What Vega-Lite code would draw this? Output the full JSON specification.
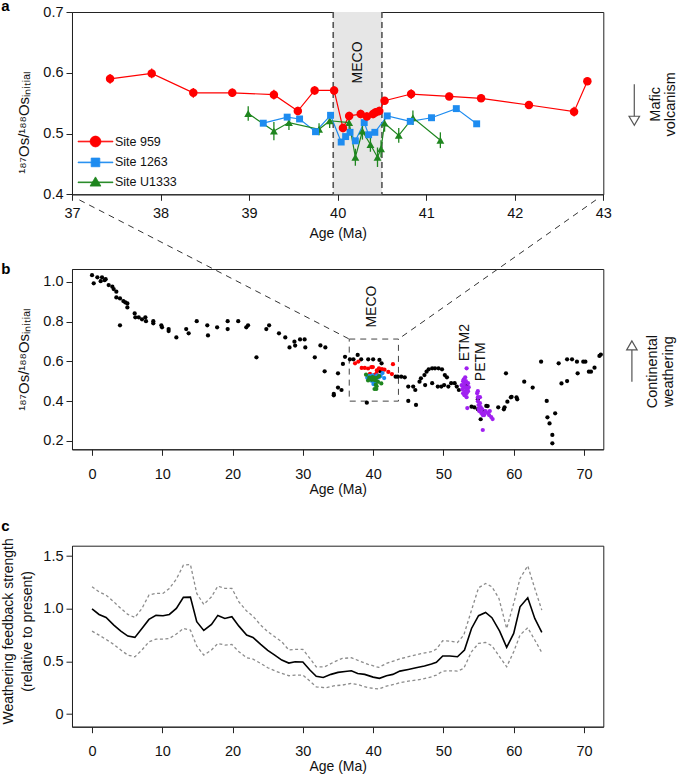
{
"$schema": "https://vega.github.io/schema/vega-lite/v6.json",
"background": "white",
"padding": {"left": 0, "top": -2, "right": 0, "bottom": 0},
"config": {
  "font": "Liberation Sans",
  "view": {"stroke": "#222", "strokeWidth": 1},
  "axis": {"grid": false, "labelFont": "Liberation Sans", "titleFont": "Liberation Sans", "labelFontSize": 14.5, "titleFontSize": 14, "titleFontWeight": "normal", "labelColor": "#111", "titleColor": "#111", "tickColor": "#222", "domainColor": "#222", "tickSize": 6, "labelFlush": false, "labelOverlap": false, "labelBound": false},
  "axisY": {"labelPadding": 3},
  "legend": {"labelFont": "Liberation Sans"},
  "title": {"font": "Liberation Sans"}
},
"datasets": {
  "sites": [
    {"site": "Site 959", "age": 37.43, "os": 0.590, "err": 0.008},
    {"site": "Site 959", "age": 37.90, "os": 0.599, "err": 0.008},
    {"site": "Site 959", "age": 38.37, "os": 0.567, "err": 0.008},
    {"site": "Site 959", "age": 38.81, "os": 0.567, "err": 0.007},
    {"site": "Site 959", "age": 39.28, "os": 0.564, "err": 0.008},
    {"site": "Site 959", "age": 39.55, "os": 0.537, "err": 0.007},
    {"site": "Site 959", "age": 39.74, "os": 0.571, "err": 0.007},
    {"site": "Site 959", "age": 39.96, "os": 0.571, "err": 0.007},
    {"site": "Site 959", "age": 40.06, "os": 0.509, "err": 0.007},
    {"site": "Site 959", "age": 40.13, "os": 0.529, "err": 0.007},
    {"site": "Site 959", "age": 40.26, "os": 0.532, "err": 0.007},
    {"site": "Site 959", "age": 40.33, "os": 0.528, "err": 0.007},
    {"site": "Site 959", "age": 40.40, "os": 0.532, "err": 0.007},
    {"site": "Site 959", "age": 40.43, "os": 0.535, "err": 0.007},
    {"site": "Site 959", "age": 40.47, "os": 0.537, "err": 0.007},
    {"site": "Site 959", "age": 40.53, "os": 0.554, "err": 0.006},
    {"site": "Site 959", "age": 40.83, "os": 0.565, "err": 0.008},
    {"site": "Site 959", "age": 41.26, "os": 0.561, "err": 0.006},
    {"site": "Site 959", "age": 41.62, "os": 0.558, "err": 0.006},
    {"site": "Site 959", "age": 42.16, "os": 0.547, "err": 0.006},
    {"site": "Site 959", "age": 42.67, "os": 0.536, "err": 0.008},
    {"site": "Site 959", "age": 42.82, "os": 0.586, "err": 0.006},
    {"site": "Site 1263", "age": 39.16, "os": 0.517, "err": 0.004},
    {"site": "Site 1263", "age": 39.43, "os": 0.527, "err": 0.004},
    {"site": "Site 1263", "age": 39.57, "os": 0.524, "err": 0.004},
    {"site": "Site 1263", "age": 39.75, "os": 0.503, "err": 0.004},
    {"site": "Site 1263", "age": 39.92, "os": 0.530, "err": 0.004},
    {"site": "Site 1263", "age": 40.04, "os": 0.486, "err": 0.004},
    {"site": "Site 1263", "age": 40.09, "os": 0.495, "err": 0.004},
    {"site": "Site 1263", "age": 40.14, "os": 0.502, "err": 0.004},
    {"site": "Site 1263", "age": 40.20, "os": 0.488, "err": 0.004},
    {"site": "Site 1263", "age": 40.30, "os": 0.518, "err": 0.004},
    {"site": "Site 1263", "age": 40.35, "os": 0.498, "err": 0.004},
    {"site": "Site 1263", "age": 40.42, "os": 0.502, "err": 0.004},
    {"site": "Site 1263", "age": 40.56, "os": 0.529, "err": 0.004},
    {"site": "Site 1263", "age": 40.82, "os": 0.520, "err": 0.004},
    {"site": "Site 1263", "age": 41.06, "os": 0.526, "err": 0.004},
    {"site": "Site 1263", "age": 41.34, "os": 0.541, "err": 0.004},
    {"site": "Site 1263", "age": 41.57, "os": 0.516, "err": 0.004},
    {"site": "Site U1333", "age": 38.99, "os": 0.533, "err": 0.012},
    {"site": "Site U1333", "age": 39.28, "os": 0.504, "err": 0.015},
    {"site": "Site U1333", "age": 39.45, "os": 0.518, "err": 0.012},
    {"site": "Site U1333", "age": 39.79, "os": 0.507, "err": 0.010},
    {"site": "Site U1333", "age": 39.91, "os": 0.521, "err": 0.012},
    {"site": "Site U1333", "age": 40.13, "os": 0.518, "err": 0.012},
    {"site": "Site U1333", "age": 40.20, "os": 0.461, "err": 0.014},
    {"site": "Site U1333", "age": 40.28, "os": 0.504, "err": 0.014},
    {"site": "Site U1333", "age": 40.37, "os": 0.482, "err": 0.012},
    {"site": "Site U1333", "age": 40.45, "os": 0.461, "err": 0.016},
    {"site": "Site U1333", "age": 40.49, "os": 0.475, "err": 0.014},
    {"site": "Site U1333", "age": 40.53, "os": 0.517, "err": 0.014},
    {"site": "Site U1333", "age": 40.69, "os": 0.497, "err": 0.012},
    {"site": "Site U1333", "age": 40.85, "os": 0.526, "err": 0.012},
    {"site": "Site U1333", "age": 41.16, "os": 0.489, "err": 0.013}
  ],
  "black": [
    {"age": 0, "os": 1.033}, {"age": 0.24, "os": 0.992}, {"age": 0.76, "os": 1.022}, {"age": 1.23, "os": 1.003}, {"age": 1.42, "os": 1.022}, {"age": 1.8, "os": 1.008}, {"age": 1.94, "os": 1.013}, {"age": 2.37, "os": 0.983}, {"age": 2.89, "os": 0.975}, {"age": 3.08, "os": 0.963}, {"age": 3.46, "os": 0.95}, {"age": 3.46, "os": 0.921}, {"age": 3.98, "os": 0.916}, {"age": 4.46, "os": 0.903}, {"age": 4.74, "os": 0.896}, {"age": 5.03, "os": 0.891}, {"age": 5.03, "os": 0.871}, {"age": 3.98, "os": 0.781}, {"age": 6.07, "os": 0.841}, {"age": 6.16, "os": 0.821}, {"age": 6.64, "os": 0.821}, {"age": 7.11, "os": 0.811}, {"age": 7.59, "os": 0.821}, {"age": 7.68, "os": 0.802}, {"age": 8.72, "os": 0.802}, {"age": 8.72, "os": 0.791}, {"age": 9.86, "os": 0.781}, {"age": 9.96, "os": 0.771}, {"age": 10.9, "os": 0.762}, {"age": 10.9, "os": 0.752}, {"age": 12.0, "os": 0.72}, {"age": 13.4, "os": 0.762}, {"age": 13.75, "os": 0.741}, {"age": 14.9, "os": 0.802}, {"age": 16.4, "os": 0.781}, {"age": 16.5, "os": 0.73}, {"age": 17.8, "os": 0.771}, {"age": 19.3, "os": 0.802}, {"age": 19.3, "os": 0.762}, {"age": 20.8, "os": 0.802}, {"age": 21.95, "os": 0.771}, {"age": 22.2, "os": 0.781}, {"age": 23.4, "os": 0.62}, {"age": 24.8, "os": 0.762}, {"age": 25.2, "os": 0.781}, {"age": 26.6, "os": 0.741}, {"age": 27.5, "os": 0.72}, {"age": 28.1, "os": 0.67}, {"age": 28.8, "os": 0.699}, {"age": 28.9, "os": 0.679}, {"age": 29.6, "os": 0.71}, {"age": 30.25, "os": 0.71}, {"age": 30.35, "os": 0.67}, {"age": 31.7, "os": 0.62}, {"age": 32.5, "os": 0.68}, {"age": 33.2, "os": 0.67}, {"age": 33.1, "os": 0.55}, {"age": 34.4, "os": 0.436}, {"age": 34.4, "os": 0.429}, {"age": 35.0, "os": 0.54}, {"age": 35.0, "os": 0.468}, {"age": 35.5, "os": 0.456}, {"age": 35.7, "os": 0.587}, {"age": 36.0, "os": 0.623}, {"age": 36.7, "os": 0.61}, {"age": 37.2, "os": 0.61}, {"age": 37.8, "os": 0.632}, {"age": 38.3, "os": 0.61}, {"age": 39.3, "os": 0.61}, {"age": 40.0, "os": 0.61}, {"age": 40.9, "os": 0.607}, {"age": 41.2, "os": 0.59}, {"age": 41.0, "os": 0.55}, {"age": 39.1, "os": 0.392}, {"age": 43.2, "os": 0.523}, {"age": 43.5, "os": 0.523}, {"age": 44.0, "os": 0.523}, {"age": 44.5, "os": 0.52}, {"age": 45.0, "os": 0.473}, {"age": 45.7, "os": 0.473}, {"age": 46.0, "os": 0.456}, {"age": 45.0, "os": 0.401}, {"age": 46.1, "os": 0.381}, {"age": 46.6, "os": 0.498}, {"age": 46.8, "os": 0.515}, {"age": 47.3, "os": 0.531}, {"age": 47.6, "os": 0.548}, {"age": 47.9, "os": 0.56}, {"age": 48.4, "os": 0.565}, {"age": 48.8, "os": 0.565}, {"age": 49.3, "os": 0.565}, {"age": 49.8, "os": 0.56}, {"age": 50.2, "os": 0.531}, {"age": 50.5, "os": 0.52}, {"age": 47.4, "os": 0.481}, {"age": 48.4, "os": 0.49}, {"age": 49.2, "os": 0.473}, {"age": 49.7, "os": 0.473}, {"age": 50.1, "os": 0.481}, {"age": 50.7, "os": 0.473}, {"age": 51.1, "os": 0.49}, {"age": 51.6, "os": 0.49}, {"age": 51.9, "os": 0.473}, {"age": 52.2, "os": 0.456}, {"age": 53.3, "os": 0.481}, {"age": 54.0, "os": 0.372}, {"age": 54.4, "os": 0.369}, {"age": 54.9, "os": 0.359}, {"age": 55.3, "os": 0.309}, {"age": 55.8, "os": 0.347}, {"age": 56.1, "os": 0.376}, {"age": 56.3, "os": 0.375}, {"age": 54.9, "os": 0.41}, {"age": 57.8, "os": 0.369}, {"age": 58.6, "os": 0.359}, {"age": 58.7, "os": 0.369}, {"age": 59.1, "os": 0.397}, {"age": 59.6, "os": 0.419}, {"age": 59.7, "os": 0.422}, {"age": 60.4, "os": 0.419}, {"age": 60.5, "os": 0.409}, {"age": 58.9, "os": 0.54}, {"age": 61.5, "os": 0.498}, {"age": 62.7, "os": 0.468}, {"age": 63.9, "os": 0.598}, {"age": 64.7, "os": 0.401}, {"age": 64.8, "os": 0.319}, {"age": 65.1, "os": 0.288}, {"age": 65.5, "os": 0.23}, {"age": 65.5, "os": 0.188}, {"age": 65.9, "os": 0.339}, {"age": 66.4, "os": 0.59}, {"age": 66.8, "os": 0.489}, {"age": 67.6, "os": 0.501}, {"age": 67.6, "os": 0.61}, {"age": 68.3, "os": 0.61}, {"age": 69.0, "os": 0.598}, {"age": 69.1, "os": 0.54}, {"age": 69.9, "os": 0.598}, {"age": 70.2, "os": 0.598}, {"age": 70.7, "os": 0.548}, {"age": 71.0, "os": 0.548}, {"age": 71.5, "os": 0.568}, {"age": 72.2, "os": 0.627}, {"age": 72.4, "os": 0.634}
  ],
  "purple": [
    {"age": 52.6, "os": 0.48}, {"age": 52.7, "os": 0.46}, {"age": 52.8, "os": 0.5}, {"age": 52.8, "os": 0.44}, {"age": 52.9, "os": 0.47}, {"age": 53.0, "os": 0.49}, {"age": 53.0, "os": 0.43}, {"age": 53.1, "os": 0.52}, {"age": 53.1, "os": 0.45}, {"age": 53.2, "os": 0.47}, {"age": 53.2, "os": 0.5}, {"age": 53.3, "os": 0.44}, {"age": 53.3, "os": 0.42}, {"age": 53.4, "os": 0.46}, {"age": 53.5, "os": 0.49}, {"age": 53.5, "os": 0.45}, {"age": 53.6, "os": 0.47}, {"age": 52.9, "os": 0.51}, {"age": 53.3, "os": 0.565}, {"age": 53.4, "os": 0.365}, {"age": 54.8, "os": 0.44}, {"age": 54.9, "os": 0.42}, {"age": 54.9, "os": 0.4}, {"age": 55.0, "os": 0.38}, {"age": 55.0, "os": 0.36}, {"age": 55.1, "os": 0.35}, {"age": 55.2, "os": 0.39}, {"age": 55.3, "os": 0.37}, {"age": 55.4, "os": 0.34}, {"age": 55.5, "os": 0.36}, {"age": 55.6, "os": 0.33}, {"age": 55.7, "os": 0.34}, {"age": 55.8, "os": 0.33}, {"age": 56.0, "os": 0.35}, {"age": 56.3, "os": 0.34}, {"age": 56.5, "os": 0.33}, {"age": 56.8, "os": 0.32}, {"age": 57.0, "os": 0.31}, {"age": 56.6, "os": 0.35}, {"age": 55.6, "os": 0.255}, {"age": 55.2, "os": 0.42}, {"age": 54.9, "os": 0.45}
  ],
  "feedback": [
    {"series": "mean", "age": 0, "val": 1.0}, {"series": "mean", "age": 1, "val": 0.946}, {"series": "mean", "age": 2, "val": 0.918}, {"series": "mean", "age": 3.1, "val": 0.845}, {"series": "mean", "age": 4.1, "val": 0.788}, {"series": "mean", "age": 5.1, "val": 0.741}, {"series": "mean", "age": 6.1, "val": 0.728}, {"series": "mean", "age": 7.1, "val": 0.813}, {"series": "mean", "age": 8.1, "val": 0.899}, {"series": "mean", "age": 9.1, "val": 0.937}, {"series": "mean", "age": 10.1, "val": 0.934}, {"series": "mean", "age": 11, "val": 0.946}, {"series": "mean", "age": 12, "val": 1.003}, {"series": "mean", "age": 13, "val": 1.108}, {"series": "mean", "age": 14, "val": 1.111}, {"series": "mean", "age": 14.9, "val": 0.877}, {"series": "mean", "age": 15.9, "val": 0.794}, {"series": "mean", "age": 17, "val": 0.851}, {"series": "mean", "age": 17.9, "val": 0.937}, {"series": "mean", "age": 18.9, "val": 0.908}, {"series": "mean", "age": 19.9, "val": 0.924}, {"series": "mean", "age": 20.9, "val": 0.835}, {"series": "mean", "age": 22, "val": 0.75}, {"series": "mean", "age": 22.9, "val": 0.728}, {"series": "mean", "age": 24, "val": 0.661}, {"series": "mean", "age": 25, "val": 0.604}, {"series": "mean", "age": 26, "val": 0.56}, {"series": "mean", "age": 27, "val": 0.513}, {"series": "mean", "age": 28, "val": 0.484}, {"series": "mean", "age": 28.9, "val": 0.497}, {"series": "mean", "age": 30, "val": 0.494}, {"series": "mean", "age": 31, "val": 0.418}, {"series": "mean", "age": 31.9, "val": 0.358}, {"series": "mean", "age": 32.9, "val": 0.348}, {"series": "mean", "age": 34, "val": 0.377}, {"series": "mean", "age": 35, "val": 0.396}, {"series": "mean", "age": 36, "val": 0.405}, {"series": "mean", "age": 36.9, "val": 0.411}, {"series": "mean", "age": 37.8, "val": 0.386}, {"series": "mean", "age": 38.8, "val": 0.377}, {"series": "mean", "age": 40, "val": 0.351}, {"series": "mean", "age": 40.9, "val": 0.339}, {"series": "mean", "age": 41.9, "val": 0.364}, {"series": "mean", "age": 42.8, "val": 0.377}, {"series": "mean", "age": 43.8, "val": 0.408}, {"series": "mean", "age": 45, "val": 0.424}, {"series": "mean", "age": 46.1, "val": 0.44}, {"series": "mean", "age": 47.3, "val": 0.456}, {"series": "mean", "age": 48.3, "val": 0.475}, {"series": "mean", "age": 49, "val": 0.491}, {"series": "mean", "age": 49.9, "val": 0.551}, {"series": "mean", "age": 50.9, "val": 0.551}, {"series": "mean", "age": 52, "val": 0.544}, {"series": "mean", "age": 53, "val": 0.608}, {"series": "mean", "age": 54, "val": 0.813}, {"series": "mean", "age": 55, "val": 0.934}, {"series": "mean", "age": 56, "val": 0.965}, {"series": "mean", "age": 56.9, "val": 0.915}, {"series": "mean", "age": 58, "val": 0.788}, {"series": "mean", "age": 59, "val": 0.633}, {"series": "mean", "age": 60, "val": 0.766}, {"series": "mean", "age": 60.9, "val": 1.019}, {"series": "mean", "age": 62, "val": 1.104}, {"series": "mean", "age": 63, "val": 0.908}, {"series": "mean", "age": 64, "val": 0.775},
    {"series": "upper", "age": 0, "val": 1.209}, {"series": "upper", "age": 1, "val": 1.161}, {"series": "upper", "age": 2, "val": 1.13}, {"series": "upper", "age": 3.1, "val": 1.066}, {"series": "upper", "age": 4.1, "val": 1.003}, {"series": "upper", "age": 5.1, "val": 0.946}, {"series": "upper", "age": 6.1, "val": 0.918}, {"series": "upper", "age": 7.1, "val": 1.003}, {"series": "upper", "age": 8.1, "val": 1.13}, {"series": "upper", "age": 9.1, "val": 1.146}, {"series": "upper", "age": 10.1, "val": 1.146}, {"series": "upper", "age": 11, "val": 1.193}, {"series": "upper", "age": 12, "val": 1.282}, {"series": "upper", "age": 13, "val": 1.414}, {"series": "upper", "age": 14, "val": 1.421}, {"series": "upper", "age": 14.9, "val": 1.146}, {"series": "upper", "age": 15.9, "val": 1.041}, {"series": "upper", "age": 17, "val": 1.114}, {"series": "upper", "age": 17.9, "val": 1.215}, {"series": "upper", "age": 18.9, "val": 1.193}, {"series": "upper", "age": 19.9, "val": 1.193}, {"series": "upper", "age": 20.9, "val": 1.066}, {"series": "upper", "age": 22, "val": 0.978}, {"series": "upper", "age": 22.9, "val": 0.93}, {"series": "upper", "age": 24, "val": 0.845}, {"series": "upper", "age": 25, "val": 0.782}, {"series": "upper", "age": 26, "val": 0.734}, {"series": "upper", "age": 27, "val": 0.687}, {"series": "upper", "age": 28, "val": 0.608}, {"series": "upper", "age": 28.9, "val": 0.614}, {"series": "upper", "age": 30, "val": 0.614}, {"series": "upper", "age": 31, "val": 0.529}, {"series": "upper", "age": 31.9, "val": 0.449}, {"series": "upper", "age": 33.1, "val": 0.449}, {"series": "upper", "age": 34.5, "val": 0.497}, {"series": "upper", "age": 35.6, "val": 0.528}, {"series": "upper", "age": 36.9, "val": 0.535}, {"series": "upper", "age": 38.1, "val": 0.503}, {"series": "upper", "age": 39.3, "val": 0.472}, {"series": "upper", "age": 40.8, "val": 0.443}, {"series": "upper", "age": 41.9, "val": 0.481}, {"series": "upper", "age": 43, "val": 0.506}, {"series": "upper", "age": 44, "val": 0.528}, {"series": "upper", "age": 45.4, "val": 0.551}, {"series": "upper", "age": 46.8, "val": 0.573}, {"series": "upper", "age": 48.3, "val": 0.592}, {"series": "upper", "age": 49, "val": 0.617}, {"series": "upper", "age": 49.9, "val": 0.696}, {"series": "upper", "age": 51, "val": 0.693}, {"series": "upper", "age": 52, "val": 0.68}, {"series": "upper", "age": 52.9, "val": 0.75}, {"series": "upper", "age": 54, "val": 0.987}, {"series": "upper", "age": 55, "val": 1.199}, {"series": "upper", "age": 56, "val": 1.24}, {"series": "upper", "age": 56.9, "val": 1.209}, {"series": "upper", "age": 57.9, "val": 1.098}, {"series": "upper", "age": 59, "val": 0.813}, {"series": "upper", "age": 60, "val": 1.051}, {"series": "upper", "age": 60.9, "val": 1.288}, {"series": "upper", "age": 62, "val": 1.408}, {"series": "upper", "age": 63, "val": 1.193}, {"series": "upper", "age": 64, "val": 0.987},
    {"series": "lower", "age": 0, "val": 0.788}, {"series": "lower", "age": 1, "val": 0.75}, {"series": "lower", "age": 2, "val": 0.709}, {"series": "lower", "age": 3.1, "val": 0.661}, {"series": "lower", "age": 4.1, "val": 0.608}, {"series": "lower", "age": 5.1, "val": 0.56}, {"series": "lower", "age": 6.1, "val": 0.544}, {"series": "lower", "age": 7.1, "val": 0.608}, {"series": "lower", "age": 8.1, "val": 0.687}, {"series": "lower", "age": 9.1, "val": 0.712}, {"series": "lower", "age": 10.1, "val": 0.712}, {"series": "lower", "age": 11, "val": 0.718}, {"series": "lower", "age": 12, "val": 0.76}, {"series": "lower", "age": 13, "val": 0.813}, {"series": "lower", "age": 14, "val": 0.797}, {"series": "lower", "age": 14.9, "val": 0.646}, {"series": "lower", "age": 15.9, "val": 0.56}, {"series": "lower", "age": 17, "val": 0.608}, {"series": "lower", "age": 17.9, "val": 0.671}, {"series": "lower", "age": 18.9, "val": 0.655}, {"series": "lower", "age": 19.9, "val": 0.661}, {"series": "lower", "age": 20.9, "val": 0.592}, {"series": "lower", "age": 22, "val": 0.535}, {"series": "lower", "age": 22.9, "val": 0.522}, {"series": "lower", "age": 24, "val": 0.481}, {"series": "lower", "age": 25, "val": 0.44}, {"series": "lower", "age": 26, "val": 0.411}, {"series": "lower", "age": 27, "val": 0.386}, {"series": "lower", "age": 28, "val": 0.364}, {"series": "lower", "age": 28.9, "val": 0.37}, {"series": "lower", "age": 30, "val": 0.37}, {"series": "lower", "age": 31, "val": 0.313}, {"series": "lower", "age": 31.9, "val": 0.259}, {"series": "lower", "age": 33.3, "val": 0.25}, {"series": "lower", "age": 34.5, "val": 0.269}, {"series": "lower", "age": 35.6, "val": 0.275}, {"series": "lower", "age": 36.9, "val": 0.291}, {"series": "lower", "age": 38.1, "val": 0.275}, {"series": "lower", "age": 39.3, "val": 0.25}, {"series": "lower", "age": 40.8, "val": 0.238}, {"series": "lower", "age": 41.9, "val": 0.266}, {"series": "lower", "age": 43, "val": 0.282}, {"series": "lower", "age": 44, "val": 0.301}, {"series": "lower", "age": 45.4, "val": 0.316}, {"series": "lower", "age": 46.8, "val": 0.329}, {"series": "lower", "age": 48.3, "val": 0.354}, {"series": "lower", "age": 49, "val": 0.37}, {"series": "lower", "age": 49.9, "val": 0.408}, {"series": "lower", "age": 51, "val": 0.411}, {"series": "lower", "age": 52, "val": 0.408}, {"series": "lower", "age": 52.9, "val": 0.434}, {"series": "lower", "age": 54, "val": 0.592}, {"series": "lower", "age": 55, "val": 0.671}, {"series": "lower", "age": 56, "val": 0.68}, {"series": "lower", "age": 56.9, "val": 0.649}, {"series": "lower", "age": 58, "val": 0.544}, {"series": "lower", "age": 59, "val": 0.449}, {"series": "lower", "age": 60, "val": 0.592}, {"series": "lower", "age": 60.9, "val": 0.75}, {"series": "lower", "age": 62, "val": 0.82}, {"series": "lower", "age": 63, "val": 0.703}, {"series": "lower", "age": 64, "val": 0.585}
  ]
},
"vconcat": [
  {
    "vconcat": [
      {
        "width": 531.3,
        "height": 182.3,
        "title": {"text": "a", "anchor": "start", "frame": "group", "orient": "top", "offset": 0, "dx": -70.7, "dy": 22, "fontSize": 15, "fontWeight": "bold", "color": "#000", "baseline": "alphabetic"},
        "layer": [
          {"data": {"values": [{}]}, "mark": {"type": "rect", "color": "#e6e6e6"},
           "encoding": {"x": {"datum": 39.95, "type": "quantitative", "title": "Age (Ma)", "scale": {"domain": [37, 43], "nice": false, "zero": false}}, "x2": {"datum": 40.5}}},
          {"data": {"values": [{}]}, "mark": {"type": "rule", "color": "#555", "strokeDash": [6, 4], "strokeWidth": 1.6},
           "encoding": {"x": {"datum": 39.95, "type": "quantitative", "title": "Age (Ma)"}}},
          {"data": {"values": [{}]}, "mark": {"type": "rule", "color": "#555", "strokeDash": [6, 4], "strokeWidth": 1.6},
           "encoding": {"x": {"datum": 40.5, "type": "quantitative", "title": "Age (Ma)"}}},
          {"data": {"values": [{}]}, "mark": {"type": "text", "text": "MECO", "angle": 270, "fontSize": 14, "color": "#111", "align": "center", "baseline": "middle"},
           "encoding": {"x": {"datum": 40.225, "type": "quantitative", "title": "Age (Ma)"}, "y": {"datum": 0.617, "type": "quantitative", "title": "¹⁸⁷Os/¹⁸⁸Osᵢₙᵢₜᵢₐₗ"}}},
          {"data": {"name": "sites"}, "mark": {"type": "line", "strokeWidth": 1.2},
           "encoding": {
             "x": {"field": "age", "type": "quantitative", "title": "Age (Ma)", "scale": {"domain": [37, 43], "nice": false, "zero": false},
                   "axis": {"values": [37, 38, 39, 40, 41, 42, 43], "format": "d", "labelOverlap": false,
                            "labelPadding": 6, "titleY": 39, "titleBaseline": "middle"}},
             "y": {"field": "os", "type": "quantitative", "title": "¹⁸⁷Os/¹⁸⁸Osᵢₙᵢₜᵢₐₗ", "scale": {"domain": [0.4, 0.7], "nice": false, "zero": false},
                   "axis": {"titleFontSize": 15, "values": [0.4, 0.45, 0.5, 0.55, 0.6, 0.65, 0.7], "format": ".1f", "labelOverlap": false,
                            "labelExpr": "abs(datum.value * 10 - round(datum.value * 10)) < 0.01 ? datum.label : ''",
                            "tickSize": {"condition": {"test": "abs(datum.value * 10 - round(datum.value * 10)) > 0.01", "value": 3.5}, "value": 6},
                            "titleX": -48.7, "titleY": 110, "titleAngle": 270, "titleBaseline": "middle", "titleAlign": "center"}},
             "color": {"field": "site", "type": "nominal", "scale": {"domain": ["Site 959", "Site 1263", "Site U1333"], "range": ["#ff0000", "#1e8cf0", "#1f861f"]},
                       "legend": {"title": null, "orient": "none", "legendX": 14, "legendY": 120, "padding": 0, "symbolSize": 324, "symbolOpacity": 1, "symbolStrokeWidth": 0.8, "rowPadding": 3.9, "labelFontSize": 12.5, "labelOffset": 10, "labelColor": "#111"}},
             "order": {"field": "age", "type": "quantitative"}
           }},
          {"data": {"name": "sites"}, "transform": [{"filter": "datum.site === 'Site 959'"}], "mark": {"type": "errorbar", "ticks": false, "thickness": 1.3, "color": "#ff0000", "rule": {"color": "#ff0000"}},
           "encoding": {"x": {"field": "age", "type": "quantitative", "title": "Age (Ma)"}, "y": {"field": "os", "type": "quantitative", "title": "¹⁸⁷Os/¹⁸⁸Osᵢₙᵢₜᵢₐₗ"}, "yError": {"field": "err"}}},
          {"data": {"name": "sites"}, "transform": [{"filter": "datum.site === 'Site 1263'"}], "mark": {"type": "errorbar", "ticks": false, "thickness": 1.3, "color": "#1e8cf0", "rule": {"color": "#1e8cf0"}},
           "encoding": {"x": {"field": "age", "type": "quantitative", "title": "Age (Ma)"}, "y": {"field": "os", "type": "quantitative", "title": "¹⁸⁷Os/¹⁸⁸Osᵢₙᵢₜᵢₐₗ"}, "yError": {"field": "err"}}},
          {"data": {"name": "sites"}, "transform": [{"filter": "datum.site === 'Site U1333'"}], "mark": {"type": "errorbar", "ticks": false, "thickness": 1.3, "color": "#1f861f", "rule": {"color": "#1f861f"}},
           "encoding": {"x": {"field": "age", "type": "quantitative", "title": "Age (Ma)"}, "y": {"field": "os", "type": "quantitative", "title": "¹⁸⁷Os/¹⁸⁸Osᵢₙᵢₜᵢₐₗ"}, "yError": {"field": "err"}}},
          {"data": {"name": "sites"}, "transform": [{"filter": "datum.site === 'Site U1333'"}], "mark": {"type": "point", "filled": true, "shape": "triangle-up", "size": 62, "color": "#1f861f", "opacity": 1},
           "encoding": {"x": {"field": "age", "type": "quantitative", "title": "Age (Ma)"}, "y": {"field": "os", "type": "quantitative", "title": "¹⁸⁷Os/¹⁸⁸Osᵢₙᵢₜᵢₐₗ"}}},
          {"data": {"name": "sites"}, "transform": [{"filter": "datum.site === 'Site 1263'"}], "mark": {"type": "point", "filled": true, "shape": "square", "size": 48, "color": "#1e8cf0", "opacity": 1},
           "encoding": {"x": {"field": "age", "type": "quantitative", "title": "Age (Ma)"}, "y": {"field": "os", "type": "quantitative", "title": "¹⁸⁷Os/¹⁸⁸Osᵢₙᵢₜᵢₐₗ"}}},
          {"data": {"name": "sites"}, "transform": [{"filter": "datum.site === 'Site 959'"}], "mark": {"type": "point", "filled": true, "shape": "circle", "size": 72, "color": "#ff0000", "opacity": 1},
           "encoding": {"x": {"field": "age", "type": "quantitative", "title": "Age (Ma)"}, "y": {"field": "os", "type": "quantitative", "title": "¹⁸⁷Os/¹⁸⁸Osᵢₙᵢₜᵢₐₗ"}}},
          {"data": {"name": "sites"}, "mark": {"type": "point", "filled": true, "size": 0, "opacity": 1},
           "encoding": {
             "x": {"field": "age", "type": "quantitative", "title": "Age (Ma)"},
             "y": {"field": "os", "type": "quantitative", "title": "¹⁸⁷Os/¹⁸⁸Osᵢₙᵢₜᵢₐₗ"},
             "color": {"field": "site", "type": "nominal", "legend": {"title": null, "orient": "none", "legendX": 14, "legendY": 120, "padding": 0, "symbolSize": 324, "symbolOpacity": 1, "symbolStrokeWidth": 0.8, "rowPadding": 3.9, "labelFontSize": 12.5, "labelOffset": 10, "labelColor": "#111"}},
             "shape": {"field": "site", "type": "nominal", "scale": {"domain": ["Site 959", "Site 1263", "Site U1333"],
                       "range": ["M-1.94,-0.04H1.94V0.04H-1.94Z M0.6,0A0.6,0.6,0,1,1,-0.6,0A0.6,0.6,0,1,1,0.6,0Z",
                                 "M-1.94,-0.04H1.94V0.04H-1.94Z M-0.48,-0.48H0.48V0.48H-0.48Z",
                                 "M-1.94,-0.04H1.94V0.04H-1.94Z M0,-0.6L0.6,0.42H-0.6Z"]},
                       "legend": {"title": null, "orient": "none", "legendX": 14, "legendY": 120, "padding": 0, "symbolSize": 324, "symbolOpacity": 1, "symbolStrokeWidth": 0.8, "rowPadding": 3.9, "labelFontSize": 12.5, "labelOffset": 10, "labelColor": "#111"}}}},
          {"data": {"values": [{}]}, "mark": {"type": "rule", "color": "#555", "strokeWidth": 1.2},
           "encoding": {"x": {"datum": 43.35, "type": "quantitative", "title": "Age (Ma)"}, "y": {"datum": 0.581, "type": "quantitative", "title": "¹⁸⁷Os/¹⁸⁸Osᵢₙᵢₜᵢₐₗ"}, "y2": {"datum": 0.527}}},
          {"data": {"values": [{}]}, "mark": {"type": "point", "shape": "triangle-down", "size": 110, "filled": true, "fill": "white", "stroke": "#555", "strokeWidth": 1.2, "opacity": 1},
           "encoding": {"x": {"datum": 43.35, "type": "quantitative", "title": "Age (Ma)"}, "y": {"datum": 0.521, "type": "quantitative", "title": "¹⁸⁷Os/¹⁸⁸Osᵢₙᵢₜᵢₐₗ"}}},
          {"data": {"values": [{}]}, "mark": {"type": "text", "text": "Mafic\nvolcanism", "lineBreak": "\n", "angle": 270, "fontSize": 14.5, "lineHeight": 15, "color": "#111", "align": "center", "baseline": "middle"},
           "encoding": {"x": {"datum": 43.6, "type": "quantitative", "title": "Age (Ma)"}, "y": {"datum": 0.548, "type": "quantitative", "title": "¹⁸⁷Os/¹⁸⁸Osᵢₙᵢₜᵢₐₗ"}}}
        ]
      },
      {
        "width": 531.3,
        "height": 180.3,
        "title": {"text": "b", "anchor": "start", "frame": "group", "orient": "top", "offset": 0, "dx": -70.7, "dy": 90, "fontSize": 15, "fontWeight": "bold", "color": "#000", "baseline": "alphabetic"},
        "layer": [
          {"data": {"values": [{}]}, "mark": {"type": "rule", "color": "#333", "strokeDash": [6, 5], "strokeWidth": 1},
           "encoding": {"x": {"datum": -1.8, "type": "quantitative", "title": "Age (Ma)", "scale": {"domain": [-2.85, 72.75], "nice": false, "zero": false}}, "y": {"datum": 1.411, "type": "quantitative", "title": "¹⁸⁷Os/¹⁸⁸Osᵢₙᵢₜᵢₐₗ", "scale": {"domain": [0.158, 1.064], "nice": false, "zero": false}}, "x2": {"datum": 36.6}, "y2": {"datum": 0.712}}},
          {"data": {"values": [{}]}, "mark": {"type": "rule", "color": "#333", "strokeDash": [6, 5], "strokeWidth": 1},
           "encoding": {"x": {"datum": 71.7, "type": "quantitative", "title": "Age (Ma)"}, "y": {"datum": 1.411, "type": "quantitative", "title": "¹⁸⁷Os/¹⁸⁸Osᵢₙᵢₜᵢₐₗ"}, "x2": {"datum": 43.6}, "y2": {"datum": 0.712}}},
          {"data": {"values": [{}]}, "mark": {"type": "rect", "fill": null, "fillOpacity": 0, "stroke": "#444", "strokeDash": [6, 5], "strokeWidth": 1},
           "encoding": {"x": {"datum": 36.6, "type": "quantitative", "title": "Age (Ma)"}, "x2": {"datum": 43.6}, "y": {"datum": 0.4, "type": "quantitative", "title": "¹⁸⁷Os/¹⁸⁸Osᵢₙᵢₜᵢₐₗ"}, "y2": {"datum": 0.712}}},
          {"data": {"name": "black"}, "mark": {"type": "circle", "size": 18, "color": "#000", "opacity": 1},
           "encoding": {
             "x": {"field": "age", "type": "quantitative", "title": "Age (Ma)", "scale": {"domain": [-2.85, 72.75], "nice": false, "zero": false},
                   "axis": {"values": [0, 10, 20, 30, 40, 50, 60, 70], "format": "d", "labelPadding": 12.4, "titleY": 40, "titleBaseline": "middle"}},
             "y": {"field": "os", "type": "quantitative", "title": "¹⁸⁷Os/¹⁸⁸Osᵢₙᵢₜᵢₐₗ", "scale": {"domain": [0.158, 1.064], "nice": false, "zero": false},
                   "axis": {"titleFontSize": 15, "values": [0.2, 0.4, 0.6, 0.8, 1.0], "format": ".1f",
                            "titleX": -48.2, "titleY": 90, "titleAngle": 270, "titleBaseline": "middle", "titleAlign": "center"}}}},
          {"data": {"name": "purple"}, "mark": {"type": "circle", "size": 18, "color": "#a020f0", "opacity": 1},
           "encoding": {"x": {"field": "age", "type": "quantitative", "title": "Age (Ma)"}, "y": {"field": "os", "type": "quantitative", "title": "¹⁸⁷Os/¹⁸⁸Osᵢₙᵢₜᵢₐₗ"}}},
          {"data": {"name": "sites"}, "mark": {"type": "circle", "size": 18, "opacity": 1},
           "encoding": {"x": {"field": "age", "type": "quantitative", "title": "Age (Ma)"}, "y": {"field": "os", "type": "quantitative", "title": "¹⁸⁷Os/¹⁸⁸Osᵢₙᵢₜᵢₐₗ"},
                        "fill": {"field": "site", "type": "nominal", "scale": {"domain": ["Site 959", "Site 1263", "Site U1333"], "range": ["#ff0000", "#1e8cf0", "#1f861f"]}, "legend": null}}},
          {"data": {"values": [{}]}, "mark": {"type": "text", "text": "MECO", "angle": 270, "fontSize": 14, "color": "#111", "align": "center", "baseline": "middle"},
           "encoding": {"x": {"datum": 39.8, "type": "quantitative", "title": "Age (Ma)"}, "y": {"datum": 0.875, "type": "quantitative", "title": "¹⁸⁷Os/¹⁸⁸Osᵢₙᵢₜᵢₐₗ"}}},
          {"data": {"values": [{}]}, "mark": {"type": "text", "text": "ETM2", "angle": 270, "fontSize": 14, "color": "#111", "align": "center", "baseline": "middle"},
           "encoding": {"x": {"datum": 53.1, "type": "quantitative", "title": "Age (Ma)"}, "y": {"datum": 0.694, "type": "quantitative", "title": "¹⁸⁷Os/¹⁸⁸Osᵢₙᵢₜᵢₐₗ"}}},
          {"data": {"values": [{}]}, "mark": {"type": "text", "text": "PETM", "angle": 270, "fontSize": 14, "color": "#111", "align": "center", "baseline": "middle"},
           "encoding": {"x": {"datum": 55.3, "type": "quantitative", "title": "Age (Ma)"}, "y": {"datum": 0.598, "type": "quantitative", "title": "¹⁸⁷Os/¹⁸⁸Osᵢₙᵢₜᵢₐₗ"}}},
          {"data": {"values": [{}]}, "mark": {"type": "rule", "color": "#555", "strokeWidth": 1.2},
           "encoding": {"x": {"datum": 76.82, "type": "quantitative", "title": "Age (Ma)"}, "y": {"datum": 0.66, "type": "quantitative", "title": "¹⁸⁷Os/¹⁸⁸Osᵢₙᵢₜᵢₐₗ"}, "y2": {"datum": 0.498}}},
          {"data": {"values": [{}]}, "mark": {"type": "point", "shape": "triangle-up", "size": 110, "filled": true, "fill": "white", "stroke": "#555", "strokeWidth": 1.2, "opacity": 1},
           "encoding": {"x": {"datum": 76.82, "type": "quantitative", "title": "Age (Ma)"}, "y": {"datum": 0.68, "type": "quantitative", "title": "¹⁸⁷Os/¹⁸⁸Osᵢₙᵢₜᵢₐₗ"}}},
          {"data": {"values": [{}]}, "mark": {"type": "text", "text": "Continental\nweathering", "lineBreak": "\n", "angle": 270, "fontSize": 14.5, "lineHeight": 16, "color": "#111", "align": "center", "baseline": "middle"},
           "encoding": {"x": {"datum": 79.86, "type": "quantitative", "title": "Age (Ma)"}, "y": {"datum": 0.548, "type": "quantitative", "title": "¹⁸⁷Os/¹⁸⁸Osᵢₙᵢₜᵢₐₗ"}}}
        ]
      }
    ],
    "spacing": 74,
    "bounds": "flush"
  },
  {
    "width": 531.3,
    "height": 181,
    "title": {"text": "c", "anchor": "start", "frame": "group", "orient": "top", "offset": 0, "dx": -70.7, "dy": 8, "fontSize": 15, "fontWeight": "bold", "color": "#000", "baseline": "alphabetic"},
    "data": {"name": "feedback"},
    "layer": [
      {"transform": [{"filter": "datum.series !== 'mean'"}],
       "mark": {"type": "line", "color": "#8c8c8c", "strokeDash": [3, 2.5], "strokeWidth": 1.3},
       "encoding": {
         "x": {"field": "age", "type": "quantitative", "title": "Age (Ma)", "scale": {"domain": [-2.85, 72.75], "nice": false, "zero": false},
               "axis": {"values": [0, 10, 20, 30, 40, 50, 60, 70], "format": "d", "labelPadding": 12, "titleY": 40, "titleBaseline": "middle"}},
         "y": {"field": "val", "type": "quantitative", "title": ["Weathering feedback strength", "(relative to present)"], "scale": {"domain": [-0.12, 1.599], "nice": false, "zero": false},
               "axis": {"values": [0, 0.5, 1, 1.5],
                        "labelExpr": "datum.value === 0 ? '0' : format(datum.value, '.1f')",
                        "titleX": -63.2, "titleY": 85.2, "titleAngle": 270, "titleBaseline": "middle", "titleAlign": "center", "titleLineHeight": 18.5}},
         "detail": {"field": "series", "type": "nominal"},
         "order": {"field": "age", "type": "quantitative"}}},
      {"transform": [{"filter": "datum.series === 'mean'"}],
       "mark": {"type": "line", "color": "#000", "strokeWidth": 1.6},
       "encoding": {
         "x": {"field": "age", "type": "quantitative", "title": "Age (Ma)"},
         "y": {"field": "val", "type": "quantitative", "title": ["Weathering feedback strength", "(relative to present)"]},
         "order": {"field": "age", "type": "quantitative"}}}
    ]
  }
],
"spacing": 20.7,
"bounds": "full"
}
